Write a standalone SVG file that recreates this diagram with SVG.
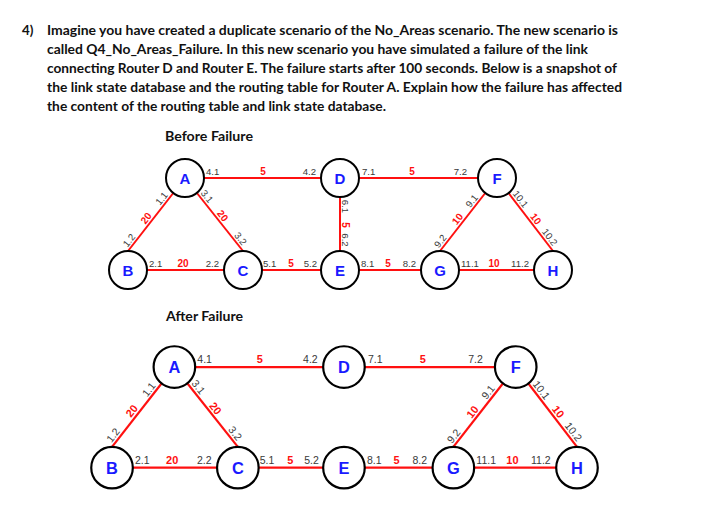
<svg xmlns="http://www.w3.org/2000/svg" width="703" height="513" viewBox="0 0 703 513">
<style>
.hdr{font-family:Lato,"Liberation Sans",sans-serif;font-weight:bold;font-size:13.3px;fill:#111}
.edge{stroke:#ff1010;stroke-width:2;fill:none}
.node circle{fill:#fff;stroke:#000;stroke-width:2}
.node text{font-family:"Liberation Sans",Arial,sans-serif;font-weight:bold;font-size:15px;fill:#1a1aff;text-anchor:middle}
.ip{font-family:"Liberation Sans",Arial,sans-serif;font-size:9.6px;fill:#3a3a3a}
.w{font-family:"Liberation Sans",Arial,sans-serif;font-size:10px;font-weight:bold;fill:#ff1010}
.m{text-anchor:middle}
.e{text-anchor:end}
</style>
<rect width="703" height="513" fill="#fff"/>
<g id="question">
<text class="hdr" x="22" y="35">4)</text>
<text class="hdr" x="47" y="35" textLength="571" lengthAdjust="spacingAndGlyphs">Imagine you have created a duplicate scenario of the No_Areas scenario. The new scenario is</text>
<text class="hdr" x="47" y="54" textLength="541" lengthAdjust="spacingAndGlyphs">called Q4_No_Areas_Failure. In this new scenario you have simulated a failure of the link</text>
<text class="hdr" x="47" y="73" textLength="570" lengthAdjust="spacingAndGlyphs">connecting Router D and Router E. The failure starts after 100 seconds. Below is a snapshot of</text>
<text class="hdr" x="47" y="92" textLength="575" lengthAdjust="spacingAndGlyphs">the link state database and the routing table for Router A. Explain how the failure has affected</text>
<text class="hdr" x="47" y="111" textLength="339" lengthAdjust="spacingAndGlyphs">the content of the routing table and link state database.</text>
<text class="hdr" x="165" y="141" textLength="88" lengthAdjust="spacingAndGlyphs">Before Failure</text>
<text class="hdr" x="166" y="321" textLength="77" lengthAdjust="spacingAndGlyphs">After Failure</text>
</g>

<!-- BEFORE -->
<g id="before">
<g id="connectors-before">
<line class="edge" x1="185" y1="178" x2="340" y2="178"/>
<line class="edge" x1="340" y1="178" x2="497" y2="178"/>
<line class="edge" x1="128" y1="270" x2="243" y2="270"/>
<line class="edge" x1="243" y1="270" x2="340" y2="270"/>
<line class="edge" x1="340" y1="270" x2="440" y2="270"/>
<line class="edge" x1="440" y1="270" x2="553" y2="270"/>
<line class="edge" x1="340" y1="178" x2="340" y2="270"/>
<line class="edge" x1="185" y1="178" x2="128" y2="251"/>
<line class="edge" x1="185" y1="178" x2="243" y2="251"/>
<line class="edge" x1="497" y1="178" x2="440" y2="251"/>
<line class="edge" x1="497" y1="178" x2="553" y2="251"/>
<text class="ip" x="206" y="174.5">4.1</text><text class="w m" x="263" y="174.5">5</text><text class="ip e" x="316" y="174.5">4.2</text>
<text class="ip" x="362" y="174.5">7.1</text><text class="w m" x="412" y="174.5">5</text><text class="ip e" x="467" y="174.5">7.2</text>
<text class="ip" x="149" y="266.5">2.1</text><text class="w m" x="183" y="266.5">20</text><text class="ip e" x="219" y="266.5">2.2</text>
<text class="ip" x="263" y="266.5">5.1</text><text class="w m" x="291" y="266.5">5</text><text class="ip e" x="317" y="266.5">5.2</text>
<text class="ip" x="361" y="266.5">8.1</text><text class="w m" x="388" y="266.5">5</text><text class="ip e" x="416" y="266.5">8.2</text>
<text class="ip" x="461" y="266.5">11.1</text><text class="w m" x="494" y="266.5">10</text><text class="ip e" x="529" y="266.5">11.2</text>
<g transform="translate(340,197) rotate(90)">
<text class="ip m" x="9.5" y="-2">6.1</text><text class="w m" x="28" y="-2">5</text><text class="ip m" x="43" y="-2">6.2</text>
</g>
<g transform="translate(128,251) rotate(-52)">
<text class="ip m" x="9" y="-2.5">1.2</text><text class="w m" x="37" y="-2.5">20</text><text class="ip m" x="62" y="-2.5">1.1</text>
</g>
<g transform="translate(185,178) rotate(51.5)">
<text class="ip m" x="28" y="-2.5">3.1</text><text class="w m" x="53" y="-2.5">20</text><text class="ip m" x="82" y="-2.5">3.2</text>
</g>
<g transform="translate(440,251) rotate(-52)">
<text class="ip m" x="8" y="-2.5">9.2</text><text class="w m" x="36" y="-2.5">10</text><text class="ip m" x="59" y="-2.5">9.1</text>
</g>
<g transform="translate(497,178) rotate(52.5)">
<text class="ip m" x="31" y="-2.5">10.1</text><text class="w m" x="56" y="-2.5">10</text><text class="ip m" x="79" y="-2.5">10.2</text>
</g>
</g>
<g id="A1" class="node"><circle cx="185" cy="178" r="19"/><text x="185" y="183.5">A</text></g>
<g id="D1" class="node"><circle cx="340" cy="178" r="19"/><text x="340" y="183.5">D</text></g>
<g id="F1" class="node"><circle cx="497" cy="178" r="19"/><text x="497" y="183.5">F</text></g>
<g id="B1" class="node"><circle cx="128" cy="270" r="19"/><text x="128" y="275.5">B</text></g>
<g id="C1" class="node"><circle cx="243" cy="270" r="19"/><text x="243" y="275.5">C</text></g>
<g id="E1" class="node"><circle cx="340" cy="270" r="19"/><text x="340" y="275.5">E</text></g>
<g id="G1" class="node"><circle cx="440" cy="270" r="19"/><text x="440" y="275.5">G</text></g>
<g id="H1" class="node"><circle cx="553" cy="270" r="19"/><text x="553" y="275.5">H</text></g>
</g>

<!-- AFTER -->
<g id="after" transform="translate(-28,172.3) scale(1.094)">
<g id="connectors-after">
<line class="edge" x1="185" y1="178" x2="340" y2="178"/>
<line class="edge" x1="340" y1="178" x2="497" y2="178"/>
<line class="edge" x1="128" y1="270" x2="243" y2="270"/>
<line class="edge" x1="243" y1="270" x2="340" y2="270"/>
<line class="edge" x1="340" y1="270" x2="440" y2="270"/>
<line class="edge" x1="440" y1="270" x2="553" y2="270"/>
<line class="edge" x1="185" y1="178" x2="128" y2="251"/>
<line class="edge" x1="185" y1="178" x2="243" y2="251"/>
<line class="edge" x1="497" y1="178" x2="440" y2="251"/>
<line class="edge" x1="497" y1="178" x2="553" y2="251"/>
<text class="ip" x="206" y="174.5">4.1</text><text class="w m" x="263" y="174.5">5</text><text class="ip e" x="316" y="174.5">4.2</text>
<text class="ip" x="362" y="174.5">7.1</text><text class="w m" x="412" y="174.5">5</text><text class="ip e" x="467" y="174.5">7.2</text>
<text class="ip" x="149" y="266.5">2.1</text><text class="w m" x="183" y="266.5">20</text><text class="ip e" x="219" y="266.5">2.2</text>
<text class="ip" x="263" y="266.5">5.1</text><text class="w m" x="291" y="266.5">5</text><text class="ip e" x="317" y="266.5">5.2</text>
<text class="ip" x="361" y="266.5">8.1</text><text class="w m" x="388" y="266.5">5</text><text class="ip e" x="416" y="266.5">8.2</text>
<text class="ip" x="461" y="266.5">11.1</text><text class="w m" x="494" y="266.5">10</text><text class="ip e" x="529" y="266.5">11.2</text>
<g transform="translate(128,251) rotate(-52)">
<text class="ip m" x="9" y="-2.5">1.2</text><text class="w m" x="37" y="-2.5">20</text><text class="ip m" x="62" y="-2.5">1.1</text>
</g>
<g transform="translate(185,178) rotate(51.5)">
<text class="ip m" x="28" y="-2.5">3.1</text><text class="w m" x="53" y="-2.5">20</text><text class="ip m" x="82" y="-2.5">3.2</text>
</g>
<g transform="translate(440,251) rotate(-52)">
<text class="ip m" x="8" y="-2.5">9.2</text><text class="w m" x="36" y="-2.5">10</text><text class="ip m" x="59" y="-2.5">9.1</text>
</g>
<g transform="translate(497,178) rotate(52.5)">
<text class="ip m" x="31" y="-2.5">10.1</text><text class="w m" x="56" y="-2.5">10</text><text class="ip m" x="79" y="-2.5">10.2</text>
</g>
</g>
<g id="A2" class="node"><circle cx="185" cy="178" r="19"/><text x="185" y="183.5">A</text></g>
<g id="D2" class="node"><circle cx="340" cy="178" r="19"/><text x="340" y="183.5">D</text></g>
<g id="F2" class="node"><circle cx="497" cy="178" r="19"/><text x="497" y="183.5">F</text></g>
<g id="B2" class="node"><circle cx="128" cy="270" r="19"/><text x="128" y="275.5">B</text></g>
<g id="C2" class="node"><circle cx="243" cy="270" r="19"/><text x="243" y="275.5">C</text></g>
<g id="E2" class="node"><circle cx="340" cy="270" r="19"/><text x="340" y="275.5">E</text></g>
<g id="G2" class="node"><circle cx="440" cy="270" r="19"/><text x="440" y="275.5">G</text></g>
<g id="H2" class="node"><circle cx="553" cy="270" r="19"/><text x="553" y="275.5">H</text></g>
</g>
</svg>
